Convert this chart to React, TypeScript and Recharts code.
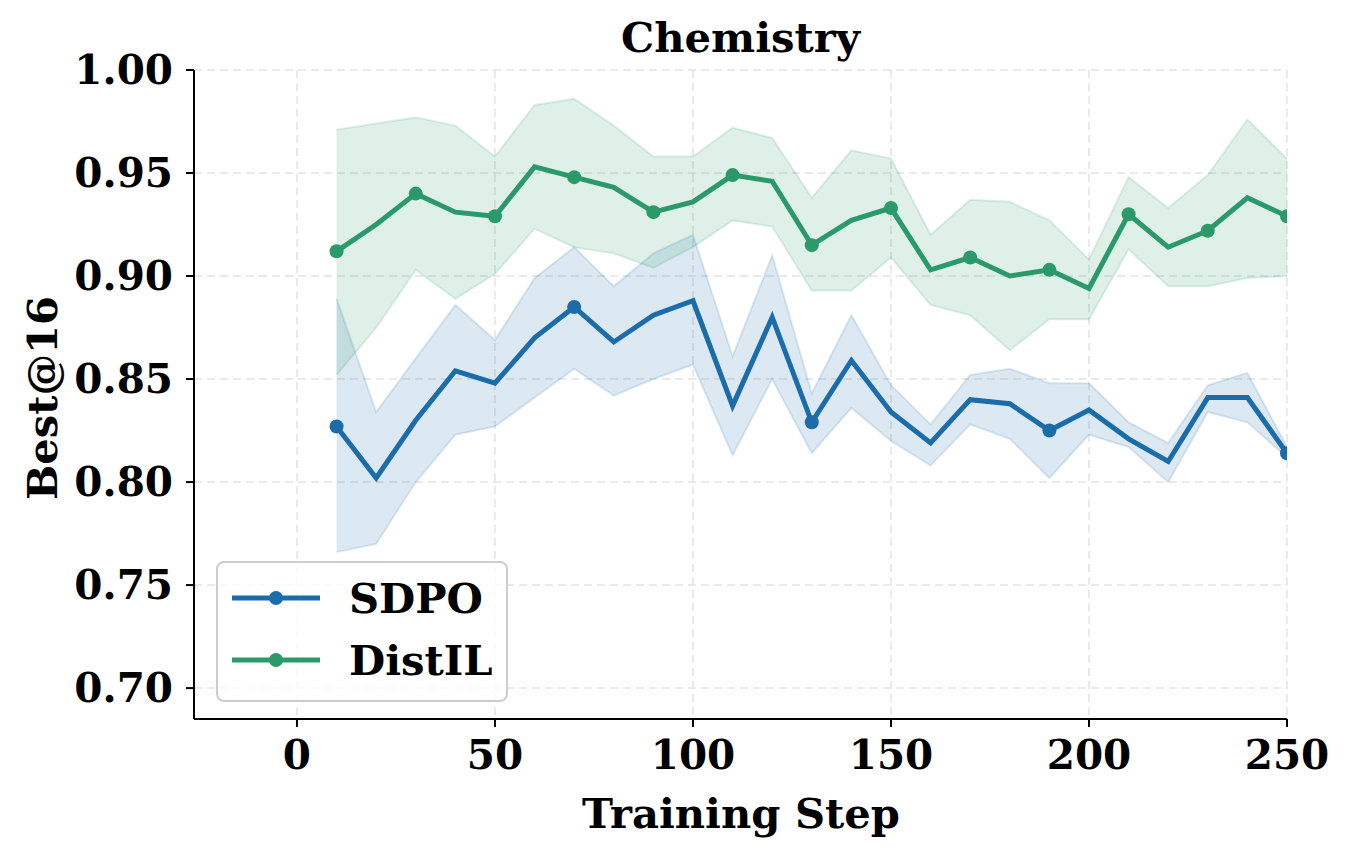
import {
  Area,
  CartesianGrid,
  ComposedChart,
  Line,
  XAxis,
  YAxis,
} from "recharts";

const steps = [10, 20, 30, 40, 50, 60, 70, 80, 90, 100, 110, 120, 130, 140, 150, 160, 170, 180, 190, 200, 210, 220, 230, 240, 250];

const sdpo = [0.827, 0.802, 0.83, 0.854, 0.848, 0.87, 0.885, 0.868, 0.881, 0.888, 0.837, 0.88, 0.829, 0.859, 0.834, 0.819, 0.84, 0.838, 0.825, 0.835, 0.821, 0.81, 0.841, 0.841, 0.814];
const sdpoLow = [0.766, 0.77, 0.8, 0.823, 0.827, 0.841, 0.855, 0.842, 0.85, 0.857, 0.813, 0.85, 0.814, 0.836, 0.82, 0.808, 0.828, 0.821, 0.802, 0.823, 0.817, 0.8, 0.834, 0.829, 0.812];
const sdpoHigh = [0.889, 0.834, 0.86, 0.886, 0.869, 0.899, 0.914, 0.895, 0.911, 0.92, 0.861, 0.91, 0.843, 0.881, 0.847, 0.828, 0.852, 0.855, 0.848, 0.848, 0.829, 0.819, 0.847, 0.853, 0.817];

const distil = [0.912, 0.925, 0.94, 0.931, 0.929, 0.953, 0.948, 0.943, 0.931, 0.936, 0.949, 0.946, 0.915, 0.927, 0.933, 0.903, 0.909, 0.9, 0.903, 0.894, 0.93, 0.914, 0.922, 0.938, 0.929];
const distilLow = [0.852, 0.875, 0.903, 0.889, 0.901, 0.923, 0.914, 0.911, 0.904, 0.914, 0.927, 0.924, 0.893, 0.893, 0.909, 0.886, 0.881, 0.864, 0.879, 0.879, 0.913, 0.895, 0.895, 0.899, 0.9];
const distilHigh = [0.971, 0.974, 0.977, 0.973, 0.958, 0.983, 0.986, 0.973, 0.958, 0.958, 0.972, 0.967, 0.938, 0.961, 0.957, 0.92, 0.937, 0.936, 0.927, 0.908, 0.948, 0.933, 0.949, 0.976, 0.957];

const xTicks = [0, 50, 100, 150, 200, 250];
const yTicks = [0.7, 0.75, 0.8, 0.85, 0.9, 0.95, 1.0];

const blue = "#1b6cab";
const green = "#2b9a6a";
const font = "'DejaVu Serif', serif";
const tickStyle = { fontSize: 40.5, fontWeight: 700, fill: "#000", fontFamily: font };
const labelSize = 41.7;

const data = steps.map((step, i) => ({
  step,
  sdpo: sdpo[i],
  sdpoBand: [sdpoLow[i], sdpoHigh[i]],
  distil: distil[i],
  distilBand: [distilLow[i], distilHigh[i]],
}));

function markEvery(every: number, color: string) {
  return (props: any) => {
    const { cx, cy, index } = props;
    if (index % every !== 0) return <g key={`d-${index}`} />;
    return <circle key={`d-${index}`} cx={cx} cy={cy} r={7} fill={color} />;
  };
}

function LegendRow({ color, label }: { color: string; label: string }) {
  return (
    <div style={{ display: "flex", alignItems: "center", height: 62 }}>
      <svg width={100} height={20} style={{ marginLeft: 12 }}>
        <line x1={2} x2={90} y1={10} y2={10} stroke={color} strokeWidth={5} />
        <circle cx={46} cy={10} r={7} fill={color} />
      </svg>
      <span style={{ marginLeft: 19, fontFamily: font, fontWeight: 700, fontSize: labelSize }}>{label}</span>
    </div>
  );
}

export default function App() {
  return (
    <div style={{ position: "absolute", left: 0, top: 0, width: 1351, height: 855, background: "#fff" }}>
      <div
        style={{
          position: "absolute",
          left: 194,
          width: 1093,
          top: 12,
          textAlign: "center",
          fontFamily: font,
          fontWeight: 700,
          fontSize: labelSize,
          lineHeight: "52px",
        }}
      >
        Chemistry
      </div>
      <ComposedChart
        width={1351}
        height={855}
        data={data}
        margin={{ top: 70, right: 64, bottom: 26, left: 0 }}
      >
        <CartesianGrid stroke="#e3e3e3" strokeDasharray="8 5" strokeWidth={1.5} />
        <XAxis
          dataKey="step"
          type="number"
          domain={[-26, 250]}
          ticks={xTicks}
          allowDataOverflow
          height={110}
          tick={tickStyle}
          tickSize={8}
          tickMargin={13}
          tickLine={{ stroke: "#000", strokeWidth: 2 }}
          axisLine={{ stroke: "#000", strokeWidth: 2 }}
          label={() => (
            <text
              x={741}
              y={813}
              textAnchor="middle"
              dominantBaseline="central"
              style={{ fontFamily: font, fontWeight: 700, fontSize: labelSize }}
            >
              Training Step
            </text>
          )}
        />
        <YAxis
          type="number"
          domain={[0.685, 1.0]}
          ticks={yTicks}
          allowDataOverflow
          width={194}
          tick={tickStyle}
          tickFormatter={(v: number) => v.toFixed(2)}
          tickSize={8}
          tickMargin={13}
          tickLine={{ stroke: "#000", strokeWidth: 2 }}
          axisLine={{ stroke: "#000", strokeWidth: 2 }}
          label={() => (
            <text
              x={42}
              y={398}
              textAnchor="middle"
              dominantBaseline="central"
              transform="rotate(-90, 42, 398)"
              style={{ fontFamily: font, fontWeight: 700, fontSize: labelSize }}
            >
              Best@16
            </text>
          )}
        />
        <Area
          dataKey="sdpoBand"
          type="linear"
          fill={blue}
          fillOpacity={0.15}
          stroke={blue}
          strokeOpacity={0.15}
          strokeWidth={2}
          isAnimationActive={false}
          activeDot={false}
        />
        <Line
          dataKey="sdpo"
          type="linear"
          stroke={blue}
          strokeWidth={5}
          dot={markEvery(6, blue)}
          activeDot={false}
          isAnimationActive={false}
        />
        <Area
          dataKey="distilBand"
          type="linear"
          fill={green}
          fillOpacity={0.15}
          stroke={green}
          strokeOpacity={0.15}
          strokeWidth={2}
          isAnimationActive={false}
          activeDot={false}
        />
        <Line
          dataKey="distil"
          type="linear"
          stroke={green}
          strokeWidth={5}
          dot={markEvery(2, green)}
          activeDot={false}
          isAnimationActive={false}
        />
      </ComposedChart>
      <div
        style={{
          position: "absolute",
          left: 216,
          top: 561,
          width: 288,
          height: 133,
          border: "2px solid #cccccc",
          borderRadius: 8,
          background: "rgba(255,255,255,0.8)",
          paddingTop: 4,
          boxSizing: "content-box",
        }}
      >
        <LegendRow color={blue} label="SDPO" />
        <LegendRow color={green} label="DistIL" />
      </div>
    </div>
  );
}
